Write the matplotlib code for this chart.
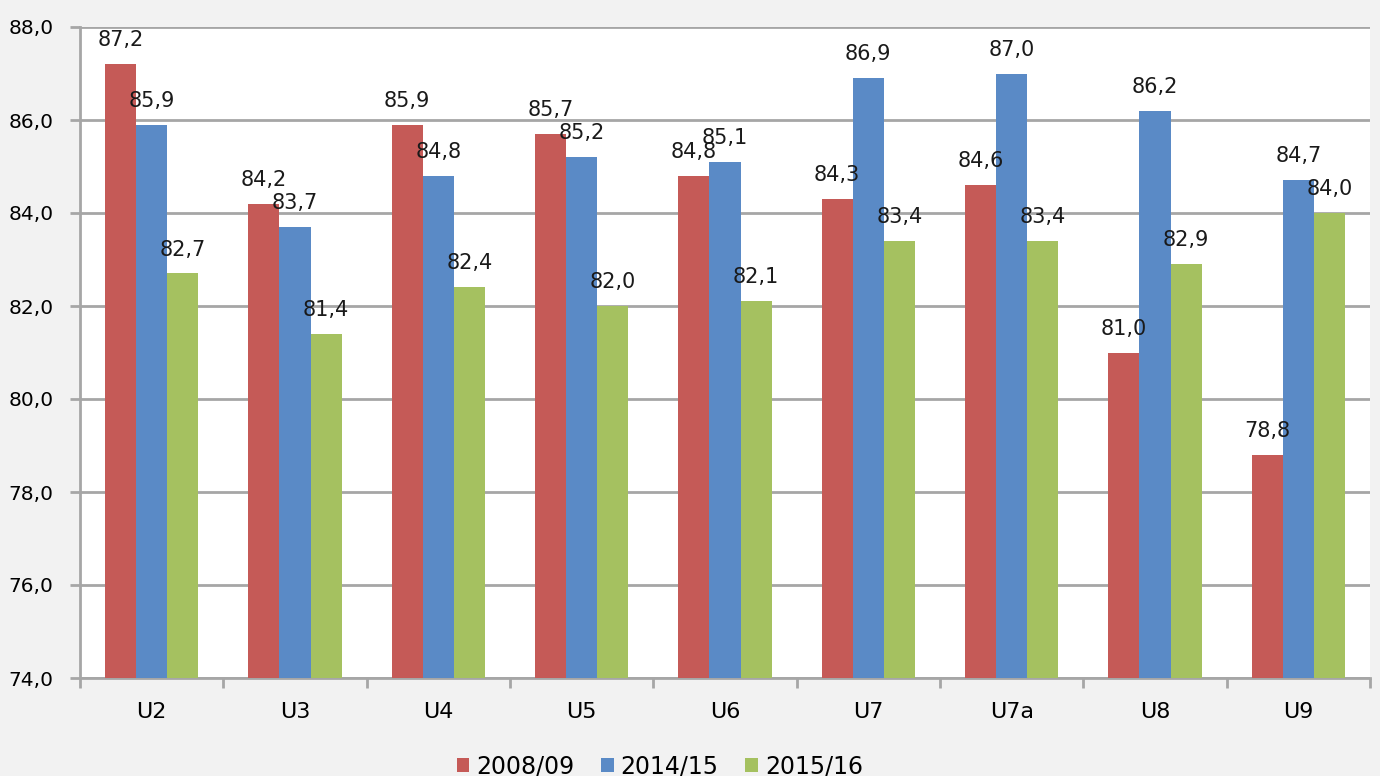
import numpy as np
import matplotlib.pyplot as plt

categories = ["U2", "U3", "U4", "U5", "U6", "U7", "U7a", "U8", "U9"]
series_names = ["2008/09", "2014/15", "2015/16"]
v0809 = [87.2, 84.2, 85.9, 85.7, 84.8, 84.3, 84.6, 81.0, 78.8]
v1415 = [85.9, 83.7, 84.8, 85.2, 85.1, 86.9, 87.0, 86.2, 84.7]
v1516 = [82.7, 81.4, 82.4, 82.0, 82.1, 83.4, 83.4, 82.9, 84.0]
yticks = [74, 76, 78, 80, 82, 84, 86, 88]

colors = ["#C55A57", "#5A8AC6", "#A5C160"]
bg = "#F2F2F2"
gridc = "#A6A6A6"

plt.rcParams['font.family'] = ['DejaVu Sans']

fig = plt.figure(figsize=(13.8, 7.76), dpi=100, facecolor=bg)
ax = fig.add_axes([80 / 1380, 1 - 678 / 776, 1290 / 1380, 651 / 776])
ax.set_facecolor("white")

x = np.arange(len(categories))
w = 0.217
for i, (vals, name) in enumerate(zip([v0809, v1415, v1516], series_names)):
    pos = x + (i - 1) * w
    ax.bar(pos, np.array(vals) - 74, bottom=74, width=w, color=colors[i],
           label=name, zorder=3)
    for px, v in zip(pos, vals):
        ax.text(px, v + 0.3, f"{v:.1f}".replace(".", ","), ha="center",
                va="bottom", fontsize=15, color="#1a1a1a", zorder=4)

ax.set_xlim(-0.5, len(categories) - 0.5)
ax.set_ylim(74, 88)
ax.set_yticks(yticks)
ax.set_yticklabels([f"{t:.1f}".replace(".", ",") for t in yticks], fontsize=14.5)
ax.yaxis.grid(True, color=gridc, linewidth=2, zorder=0)

ax.set_xticks(x)
ax.set_xticklabels(categories, fontsize=16)
ax.set_xticks(np.arange(-0.5, len(categories)), minor=True)
ax.tick_params(axis="x", which="major", length=0, pad=17)
ax.tick_params(axis="x", which="minor", length=7, width=2, color=gridc)
ax.tick_params(axis="y", length=7, width=2, color=gridc, pad=12)

for s in ["top", "right"]:
    ax.spines[s].set_visible(False)
for s in ["left", "bottom"]:
    ax.spines[s].set_color(gridc)
    ax.spines[s].set_linewidth(2)

leg = fig.legend(loc="lower center", bbox_to_anchor=(0.478, -0.03), ncol=3,
                 frameon=False, fontsize=17, handlelength=0.55, handleheight=0.55,
                 handletextpad=0.3, columnspacing=1.1)

fig.savefig("out.png", dpi=100, facecolor=bg)
